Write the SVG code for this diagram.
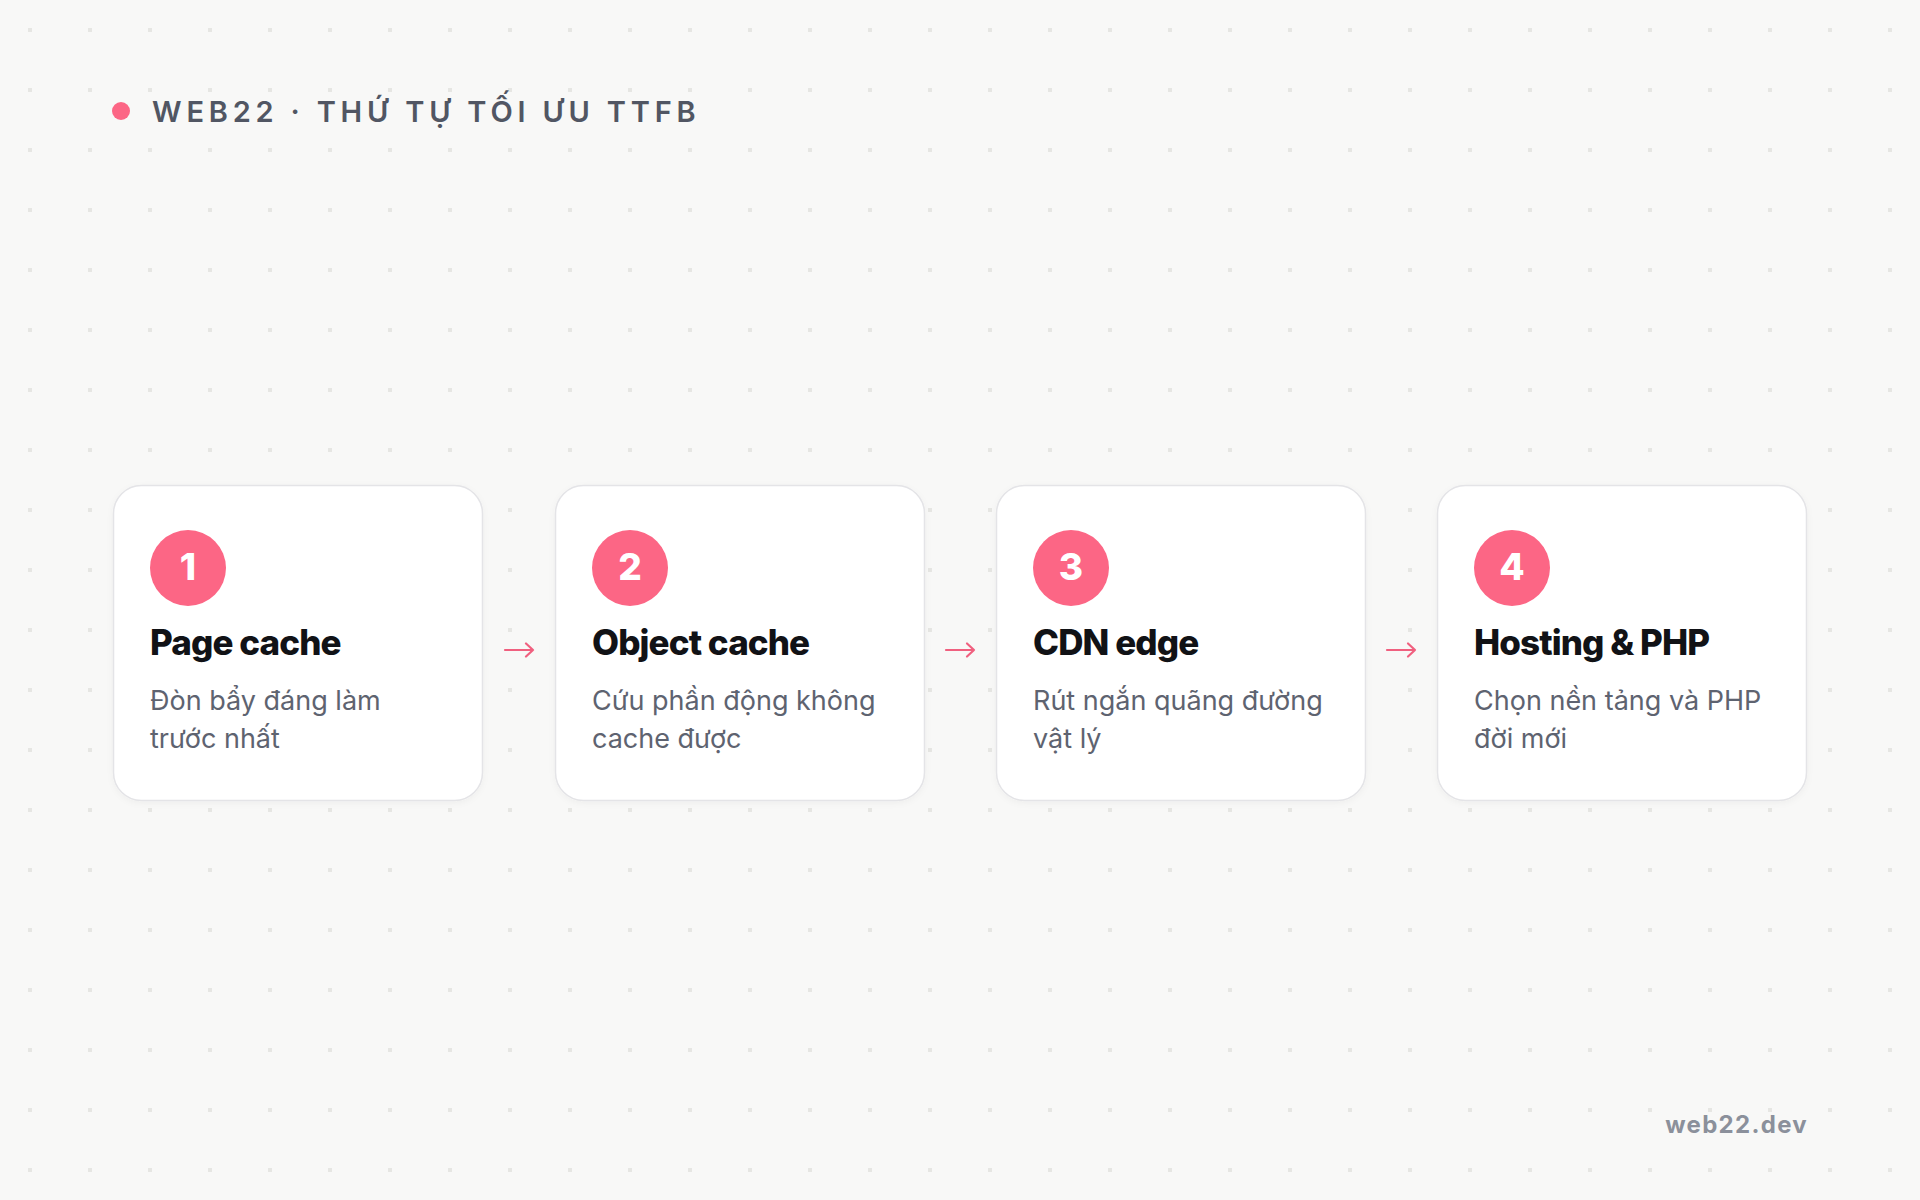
<svg xmlns="http://www.w3.org/2000/svg" width="1920" height="1200" viewBox="0 0 1920 1200">
  <style>
    .card { fill: #ffffff; stroke: #e4e4e7; stroke-width: 1.5; }
    .badge { fill: #fc6685; }
    .num { font-family: Inter, "Noto Sans", sans-serif; font-weight: 800; font-size: 37px; fill: #ffffff; text-anchor: middle; }
    .title { font-family: Inter, "Noto Sans", sans-serif; font-weight: 800; font-size: 35px; fill: #111216; letter-spacing: -0.9px; }
    .desc { font-family: Inter, "Noto Sans", sans-serif; font-weight: 400; font-size: 27px; fill: #5e6370; }
    .head { font-family: Inter, "Noto Sans", sans-serif; font-weight: 600; font-size: 29px; fill: #515663; letter-spacing: 4.8px; }
    .foot { font-family: Inter, "Noto Sans", sans-serif; font-weight: 700; font-size: 24px; fill: #8b909b; letter-spacing: 1.3px; text-anchor: end; }
    .conn { stroke: #f0607f; stroke-width: 2.2; fill: none; stroke-linecap: round; stroke-linejoin: round; }
  </style>
  <defs>
    <pattern id="dots" x="0" y="0" width="60" height="60" patternUnits="userSpaceOnUse">
      <rect x="28" y="28" width="4" height="4" fill="#e6e6e3"/>
    </pattern>
    <filter id="sh" x="-10%" y="-10%" width="120%" height="130%">
      <feDropShadow dx="0" dy="2" stdDeviation="3" flood-color="#000000" flood-opacity="0.04"/>
    </filter>
  </defs>
  <rect width="1920" height="1200" fill="#f8f8f7"/>
  <rect width="1920" height="1200" fill="url(#dots)"/>

  <g id="header">
    <circle cx="121" cy="111" r="9" fill="#fc6685"/>
    <text class="head" x="152" y="122">WEB22 · THỨ TỰ TỐI ƯU TTFB</text>
  </g>

  <g id="connectors">
    <path class="conn" d="M505 650 H533 M526 643.5 L533 650 L526 656.5"/>
    <path class="conn" d="M946 650 H974 M967 643.5 L974 650 L967 656.5"/>
    <path class="conn" d="M1387 650 H1415 M1408 643.5 L1415 650 L1408 656.5"/>
  </g>

  <g id="node1">
    <rect class="card" x="113.5" y="485.5" width="369" height="315" rx="28" filter="url(#sh)"/>
    <circle class="badge" cx="188" cy="568" r="38"/>
    <text class="num" x="188" y="580">1</text>
    <text class="title" x="150" y="655">Page cache</text>
    <text class="desc" x="150" y="710">Đòn bẩy đáng làm</text>
    <text class="desc" x="150" y="748">trước nhất</text>
  </g>

  <g id="node2">
    <rect class="card" x="555.5" y="485.5" width="369" height="315" rx="28" filter="url(#sh)"/>
    <circle class="badge" cx="630" cy="568" r="38"/>
    <text class="num" x="630" y="580">2</text>
    <text class="title" x="592" y="655">Object cache</text>
    <text class="desc" x="592" y="710">Cứu phần động không</text>
    <text class="desc" x="592" y="748">cache được</text>
  </g>

  <g id="node3">
    <rect class="card" x="996.5" y="485.5" width="369" height="315" rx="28" filter="url(#sh)"/>
    <circle class="badge" cx="1071" cy="568" r="38"/>
    <text class="num" x="1071" y="580">3</text>
    <text class="title" x="1033" y="655">CDN edge</text>
    <text class="desc" x="1033" y="710">Rút ngắn quãng đường</text>
    <text class="desc" x="1033" y="748">vật lý</text>
  </g>

  <g id="node4">
    <rect class="card" x="1437.5" y="485.5" width="369" height="315" rx="28" filter="url(#sh)"/>
    <circle class="badge" cx="1512" cy="568" r="38"/>
    <text class="num" x="1512" y="580">4</text>
    <text class="title" x="1474" y="655">Hosting &amp; PHP</text>
    <text class="desc" x="1474" y="710">Chọn nền tảng và PHP</text>
    <text class="desc" x="1474" y="748">đời mới</text>
  </g>

  <g id="footer">
    <text class="foot" x="1808" y="1133">web22.dev</text>
  </g>
</svg>
